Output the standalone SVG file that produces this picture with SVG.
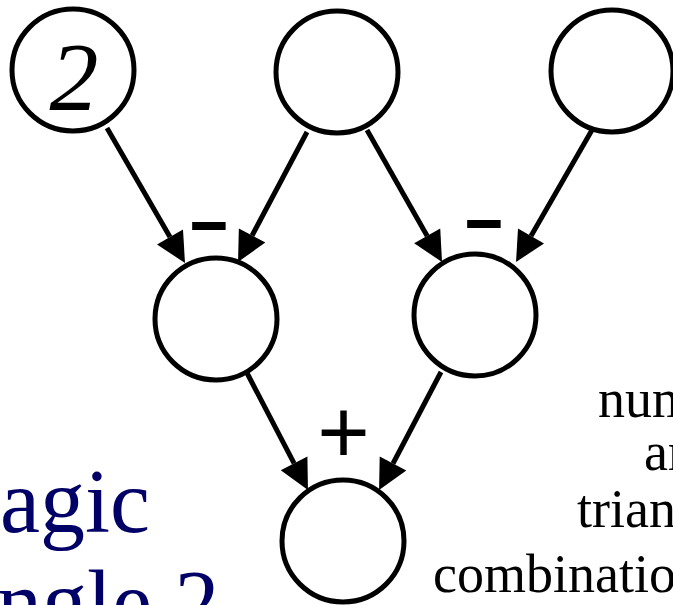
<svg xmlns="http://www.w3.org/2000/svg" width="673" height="605" viewBox="0 0 673 605">
<style>
.node{fill:#ffffff;stroke:#000000;stroke-width:5}
.conn{stroke:#000000;stroke-width:5;fill:none;marker-end:url(#ah)}
.sign{font-family:"Liberation Sans",Arial,sans-serif;fill:#000000}
.note{font-family:"Liberation Serif","Times New Roman",serif;font-size:54px;fill:#000000}
.title{font-family:"Liberation Serif","Times New Roman",serif;font-size:90px;fill:#000066}
</style>
<defs>
<marker id="ah" markerUnits="userSpaceOnUse" markerWidth="32" markerHeight="32" refX="0" refY="15" orient="auto" overflow="visible">
<path d="M0,0 L30,15 L0,30 Z" fill="#000000"/>
</marker>
</defs>
<rect width="673" height="605" fill="#ffffff"/>
<g id="connectors">
<line class="conn" x1="107" y1="128" x2="170" y2="237"/>
<line class="conn" x1="307" y1="132" x2="252.1" y2="235.5"/>
<line class="conn" x1="367" y1="130" x2="427.2" y2="235.9"/>
<line class="conn" x1="592" y1="130" x2="531" y2="236"/>
<line class="conn" x1="247" y1="373" x2="294.1" y2="463.4"/>
<line class="conn" x1="441" y1="372" x2="393" y2="463.5"/>
</g>
<g id="n1"><circle class="node" cx="73" cy="70" r="61"/><text x="74" y="110" text-anchor="middle" font-family="Liberation Serif,'Times New Roman',serif" font-style="italic" font-size="98">2</text></g>
<g id="n2"><circle class="node" cx="337" cy="72" r="61"/></g>
<g id="n3"><circle class="node" cx="612" cy="71" r="61"/></g>
<g id="n4"><circle class="node" cx="216" cy="319" r="61"/></g>
<g id="n5"><circle class="node" cx="475" cy="315" r="61"/></g>
<g id="n6"><circle class="node" cx="343" cy="541" r="61"/></g>
<g id="signs">
<text class="sign" font-weight="bold" font-size="66" transform="translate(209,243) scale(2,1)" text-anchor="middle">-</text>
<text class="sign" font-weight="bold" font-size="66" transform="translate(484,241) scale(2,1)" text-anchor="middle">-</text>
<text class="sign" font-size="90" x="343.5" y="463" text-anchor="middle">+</text>
</g>
<g id="labels">
<text class="note" x="598" y="417">num</text>
<text class="note" x="644" y="470">ar</text>
<text class="note" x="577" y="527">trian</text>
<text class="note" x="433" y="592" font-size="56">combinatio</text>
<text class="title" x="0" y="532">agic</text>
<text class="title" x="-3" y="633">ngle 2</text>
</g>
</svg>
